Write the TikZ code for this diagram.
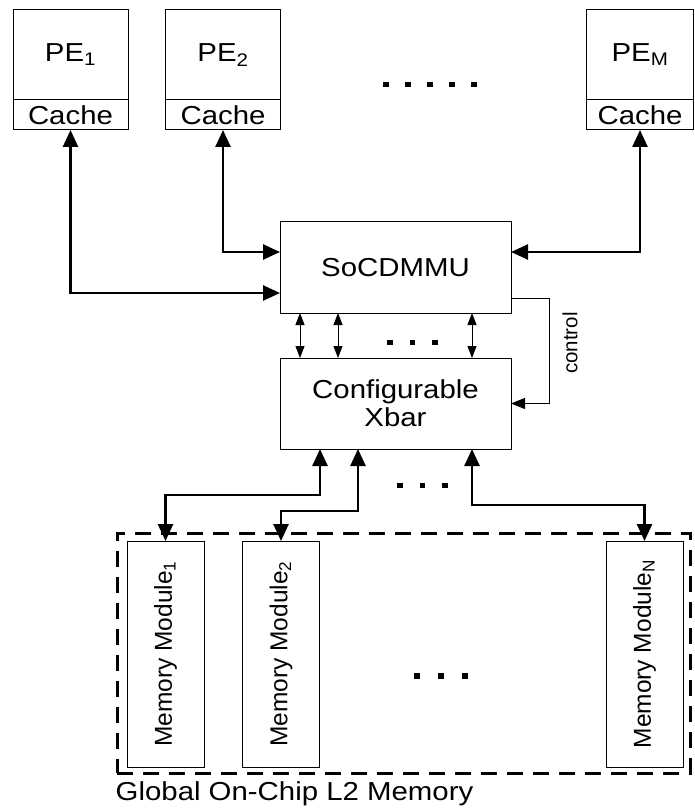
\documentclass[tikz,border=0pt]{standalone}
\usepackage{fontspec}
\setmainfont{Liberation Sans}[FakeStretch=1.13]
\newfontfamily\upfont{Liberation Sans}
\usetikzlibrary{positioning,arrows.meta}

\begin{document}
\begin{tikzpicture}[x=1pt, y=-1pt,
  font=\fontsize{26}{28}\selectfont,
  box/.style={draw, line width=1pt, inner sep=0pt, outer sep=0pt, align=center},
  pe/.style={box, minimum width=115pt, minimum height=90pt},
  cache/.style={box, minimum width=115pt, minimum height=30pt},
  unit/.style={box, minimum width=231pt, minimum height=91pt},
  mem/.style={box, minimum width=77pt, minimum height=226pt},
  memtext/.style={rotate=90, font=\upfont\fontsize{24.5}{26}\selectfont},
  bus/.style={{Triangle[length=17pt,width=15pt]}-{Triangle[length=17pt,width=15pt]}, line width=2.6pt},
  link/.style={{Triangle[length=12pt,width=9pt]}-{Triangle[length=12pt,width=9pt]}, line width=1pt},
  ctrl/.style={-{Triangle[length=14pt,width=11pt]}, line width=1pt}]

\useasboundingbox (0,0) rectangle (694,810);

% Processing elements with their caches.
\node[pe] (pe1) at (70.5,55) {PE\textsubscript{1}};
\node[cache, below=0pt of pe1] (pe1c) {Cache};
\node[pe] (pe2) at (223,55) {PE\textsubscript{2}};
\node[cache, below=0pt of pe2] (pe2c) {Cache};
\node[pe, minimum width=107pt] (pem) at (640,55) {PE\textsubscript{M}};
\node[cache, minimum width=107pt, below=0pt of pem] (pemc) {Cache};
\foreach \i in {0,...,4} \fill (383+22*\i,82) rectangle ++(5.5,5.5);

% Memory management unit and crossbar.
\node[unit] (socd) at (395.5,267.5) {SoCDMMU};
\node[unit] (xbar) at (395.5,403.5) {Configurable\\Xbar};
\draw[bus] (pe1c.south) |- ([yshift=-25.5pt]socd.west);
\draw[bus] (pe2c.south) |- ([yshift=15.5pt]socd.west);
\draw[bus] (pemc.south) |- ([yshift=15.5pt]socd.east);
\foreach \dx in {-95.5,-57.5,76.5}
  \draw[link] ([xshift=\dx pt]socd.south) -- ([xshift=\dx pt]xbar.north);
\foreach \i in {0,...,2} \fill (387+22.5*\i,339.5) rectangle ++(5.5,5);
\draw[ctrl] ([yshift=-30.5pt]socd.east) -- ++(38,0) |- (xbar.east);
\node[rotate=90, font=\upfont\fontsize{20.5}{22}\selectfont] (ctrllbl) at (570,343) {control};

% Global L2 memory.
\node[draw, dashed, line width=3pt, dash pattern=on 16pt off 10pt,
      minimum width=573pt, minimum height=240pt] (l2) at (403.5,653) {};
\node[mem] (mem1) at (165.5,654) {};
\node[mem] (mem2) at (281,654) {};
\node[mem] (memn) at (644.5,654) {};
\node[memtext] (mem1t) at (mem1) {Memory Module\textsubscript{1}};
\node[memtext] (mem2t) at (mem2) {Memory Module\textsubscript{2}};
\node[memtext] (memnt) at (memn) {Memory Module\textsubscript{N}};
\foreach \i in {0,...,2} \fill (414+24*\i,673) rectangle ++(5.5,5.5);
\node[anchor=base west, inner sep=0pt] (l2lbl) at ([yshift=-26pt]l2.south west) {Global On-Chip L2 Memory};

\draw[bus] ([xshift=-75.5pt]xbar.south) -- ++(0,46) -| (mem1.north);
\draw[bus] ([xshift=-37.5pt]xbar.south) -- ++(0,62) -| (mem2.north);
\draw[bus] ([xshift=76.5pt]xbar.south) -- ++(0,56) -| (memn.north);
\foreach \i in {0,...,2} \fill (397+22.5*\i,482.5) rectangle ++(5.5,5);
\end{tikzpicture}
\end{document}
